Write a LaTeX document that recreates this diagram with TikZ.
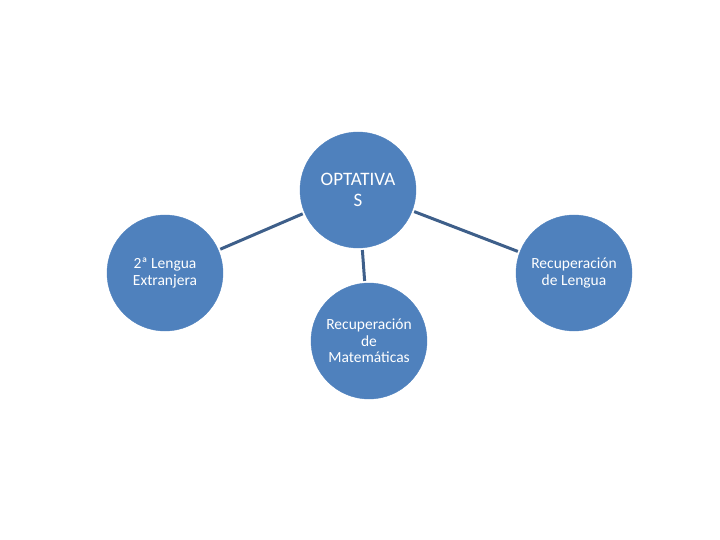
\documentclass[tikz,border=0pt]{standalone}
\usepackage{fontspec}
\setmainfont{Carlito}
\definecolor{circ}{HTML}{4F81BD}
\definecolor{conn}{HTML}{3E5F8A}
\begin{document}
\begin{tikzpicture}[x=1pt,y=-1pt,
  bubble/.style={circle, fill=circ, draw=circ, minimum size=116pt, inner sep=0pt,
    text=white, align=center, font=\fontsize{15.5}{16.5}\selectfont},
  link/.style={draw=conn, line width=3pt, shorten >=2pt, shorten <=2pt}]
\useasboundingbox (0,0) rectangle (720,540);
\node[bubble, font=\fontsize{19}{21}\selectfont] (top) at (358,190) {OPTATIVA\\S};
\node[bubble] (left) at (165,273) {2ª Lengua\\Extranjera};
\node[bubble] (right) at (574,273) {Recuperación\\de Lengua};
\node[bubble] (bottom) at (369,341) {Recuperación\\de\\Matemáticas};
\draw[link] (left) -- (top);
\draw[link] (top) -- (right);
\draw[link] (top) -- (bottom);
\end{tikzpicture}
\end{document}
